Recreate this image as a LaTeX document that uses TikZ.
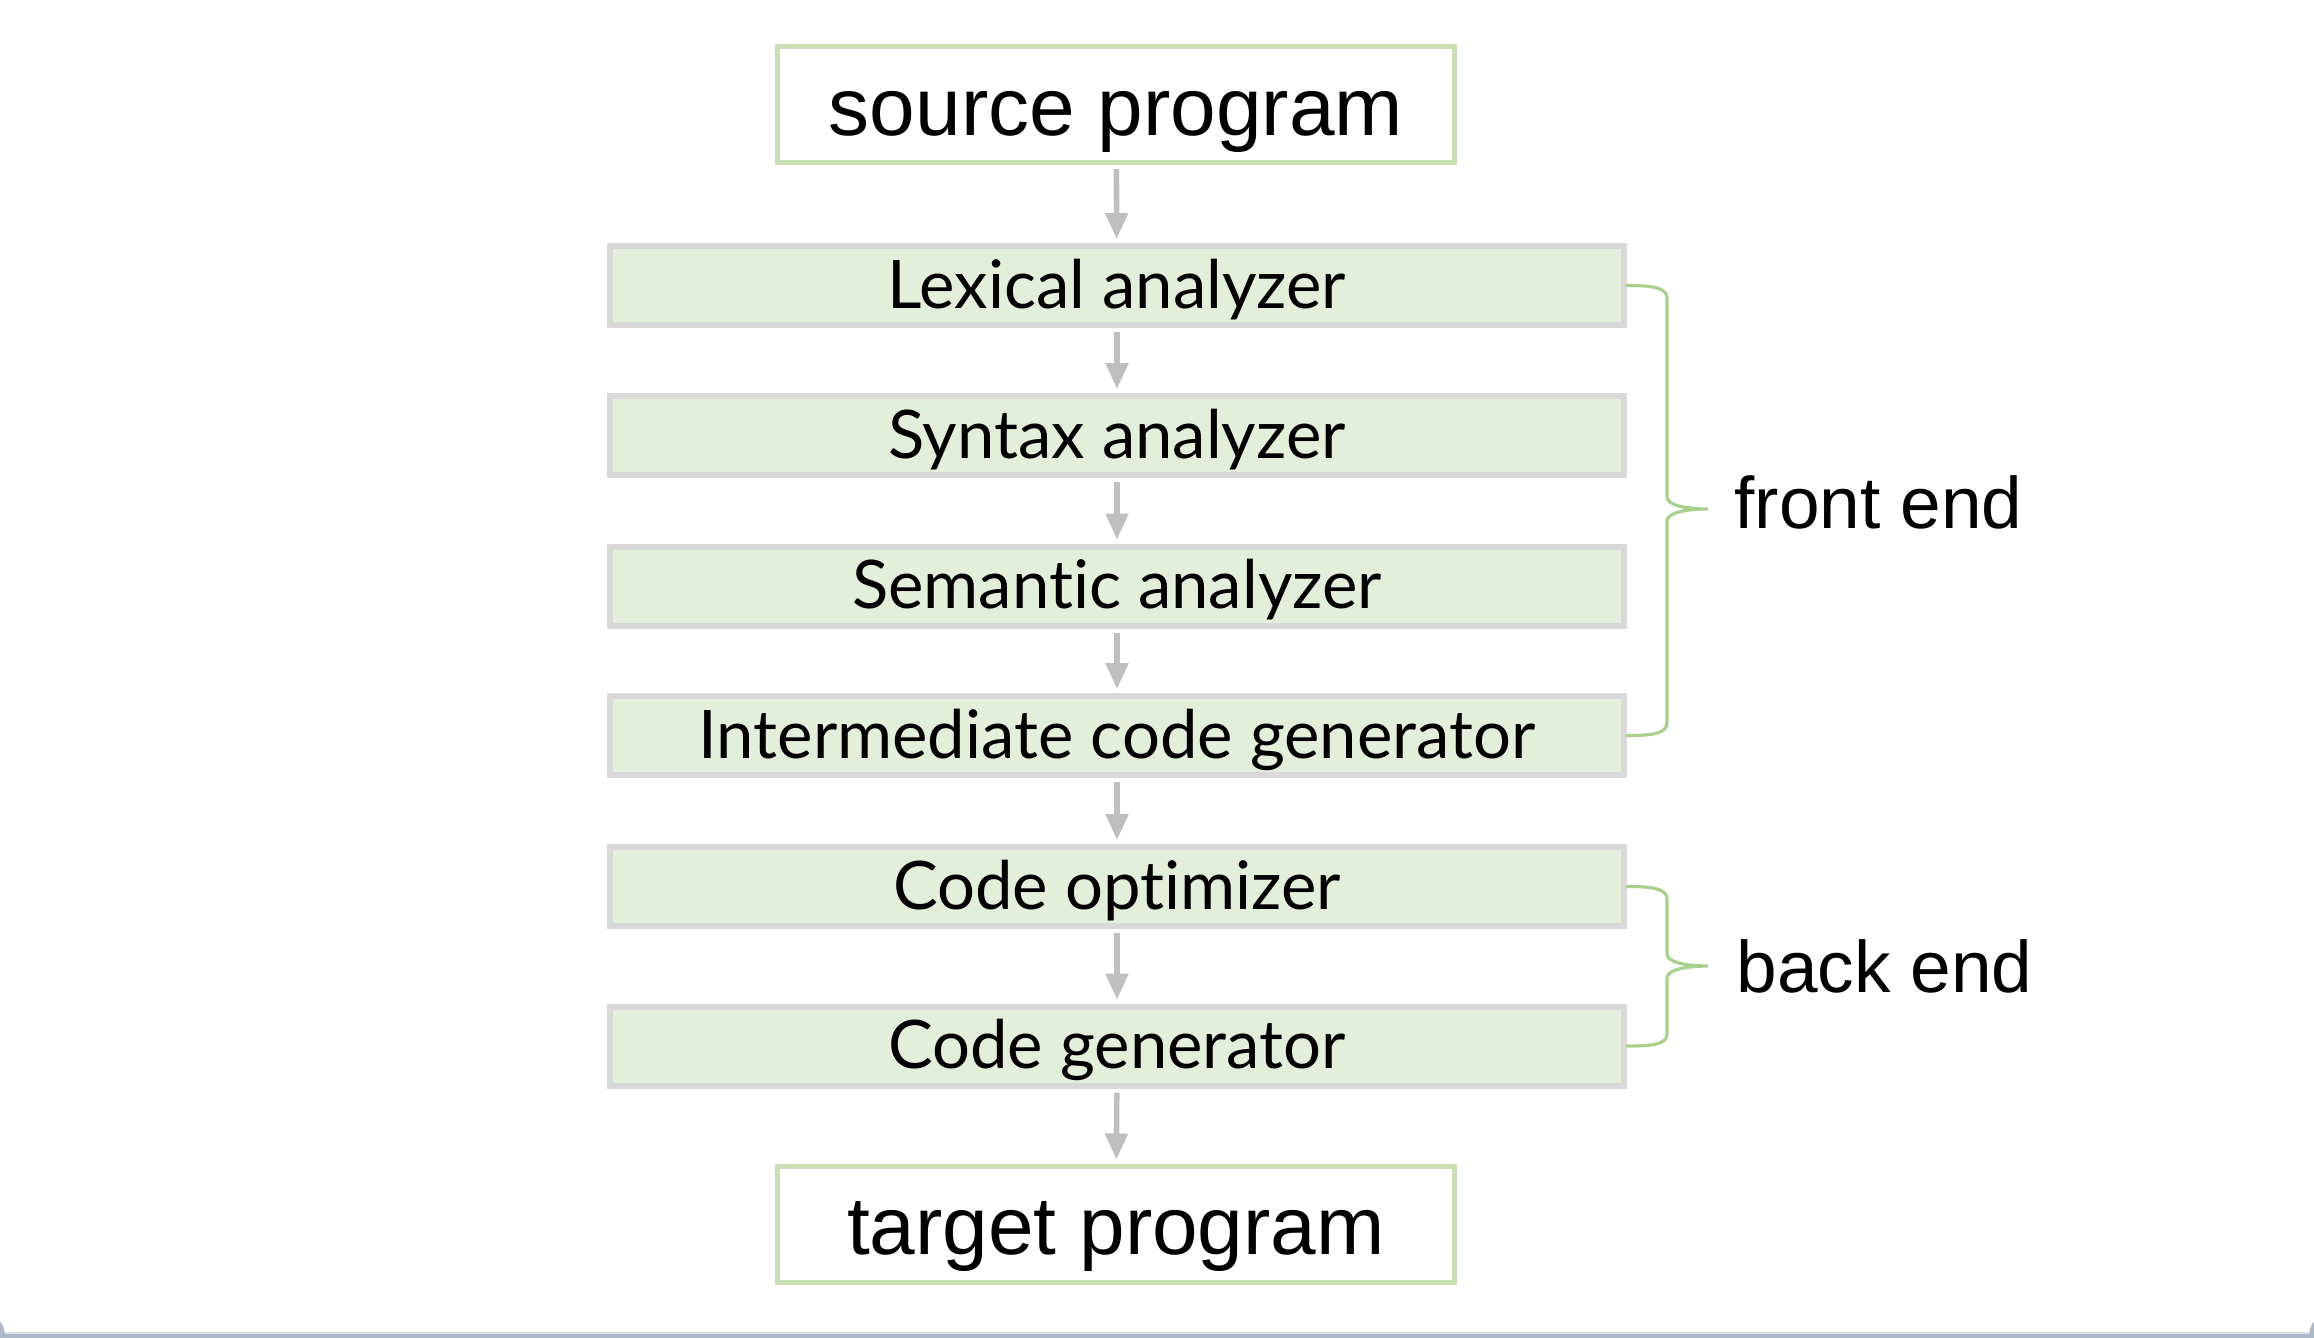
\documentclass[tikz,border=0pt]{standalone}
\usepackage{fontspec}
\setmainfont{Liberation Sans}
\newfontfamily\boxfont[Ligatures=NoCommon]{Lato}
\usetikzlibrary{arrows.meta}
\definecolor{boxfill}{HTML}{E2EFDA}
\definecolor{boxline}{HTML}{D9D9D9}
\definecolor{endline}{HTML}{C9E0B6}
\definecolor{arrowgray}{HTML}{BFBFBF}
\definecolor{bracegreen}{HTML}{A9D18E}
\definecolor{framegray}{HTML}{ADB9CA}
\definecolor{framelight}{HTML}{DDE3EA}
\begin{document}
\begin{tikzpicture}[x=0.5pt,y=-0.5pt,
  stage/.style={draw=boxline, line width=3pt, fill=boxfill, inner sep=0pt,
    minimum width=507pt, minimum height=39.5pt,
    font=\boxfont\fontsize{33.5}{38}\selectfont, text height=22.5pt, text depth=0pt},
  endbox/.style={draw=endline, line width=2.5pt, fill=white, inner sep=0pt,
    minimum width=338.5pt, minimum height=58pt,
    font=\fontsize{41}{48}\selectfont, text height=30.5pt, text depth=0pt},
  flow/.style={draw=arrowgray, line width=2.8pt, -{Triangle[width=11pt,length=13pt]},
    shorten >=2pt, shorten <=2pt},
  bracepath/.style={draw=bracegreen, line width=1.6pt, line cap=round},
  sidelabel/.style={anchor=base west, inner sep=0pt, font=\fontsize{36.5}{44}\selectfont}
]
\useasboundingbox (0,0) rectangle (2314,1338);
\fill[white] (0,0) rectangle (2314,1338);

\node[endbox] (src) at (1116,104.5) {source program};
\node[stage] (lex) at (1117,285.5) {Lexical analyzer};
\node[stage] (syn) at (1117,435.5) {Syntax analyzer};
\node[stage] (sem) at (1117,586) {Semantic analyzer};
\node[stage] (inter) at (1117,735.5) {Intermediate code generator};
\node[stage] (opt) at (1117,886.5) {Code optimizer};
\node[stage] (gen) at (1117,1046) {Code generator};
\node[endbox] (tgt) at (1116,1224) {target program};

\draw[flow] (src) -- (lex);
\draw[flow] (lex) -- (syn);
\draw[flow] (syn) -- (sem);
\draw[flow] (sem) -- (inter);
\draw[flow] (inter) -- (opt);
\draw[flow] (opt) -- (gen);
\draw[flow] (gen) -- (tgt);

\coordinate (fe) at (1708,509);
\coordinate (be) at (1708,966);
\draw[bracepath] (lex.east) .. controls (1650,285.5) and (1667,287) .. (1667,298)
  -- (1667,497) .. controls (1667,505) and (1685,509) .. (fe)
  .. controls (1685,509) and (1667,513) .. (1667,521)
  -- (1667,723) .. controls (1667,734) and (1650,735.5) .. (inter.east);
\draw[bracepath] (opt.east) .. controls (1650,886.5) and (1667,888) .. (1667,899)
  -- (1667,954) .. controls (1667,962) and (1685,966) .. (be)
  .. controls (1685,966) and (1667,970) .. (1667,978)
  -- (1667,1034) .. controls (1667,1045) and (1650,1046) .. (gen.east);

\node[sidelabel] (felabel) at (1734,528) {front end};
\node[sidelabel] (belabel) at (1736,992) {back end};

% window frame strip at the bottom
\fill[framelight] (0,1332) rectangle (2314,1334);
\fill[framegray] (0,1334) rectangle (2314,1338);
\fill[framegray] (0,1322) .. controls (3,1323) and (4,1330) .. (5,1334) -- (0,1334) -- cycle;
\fill[framegray] (2314,1322) .. controls (2311,1323) and (2310,1330) .. (2309,1334) -- (2314,1334) -- cycle;
\end{tikzpicture}
\end{document}
